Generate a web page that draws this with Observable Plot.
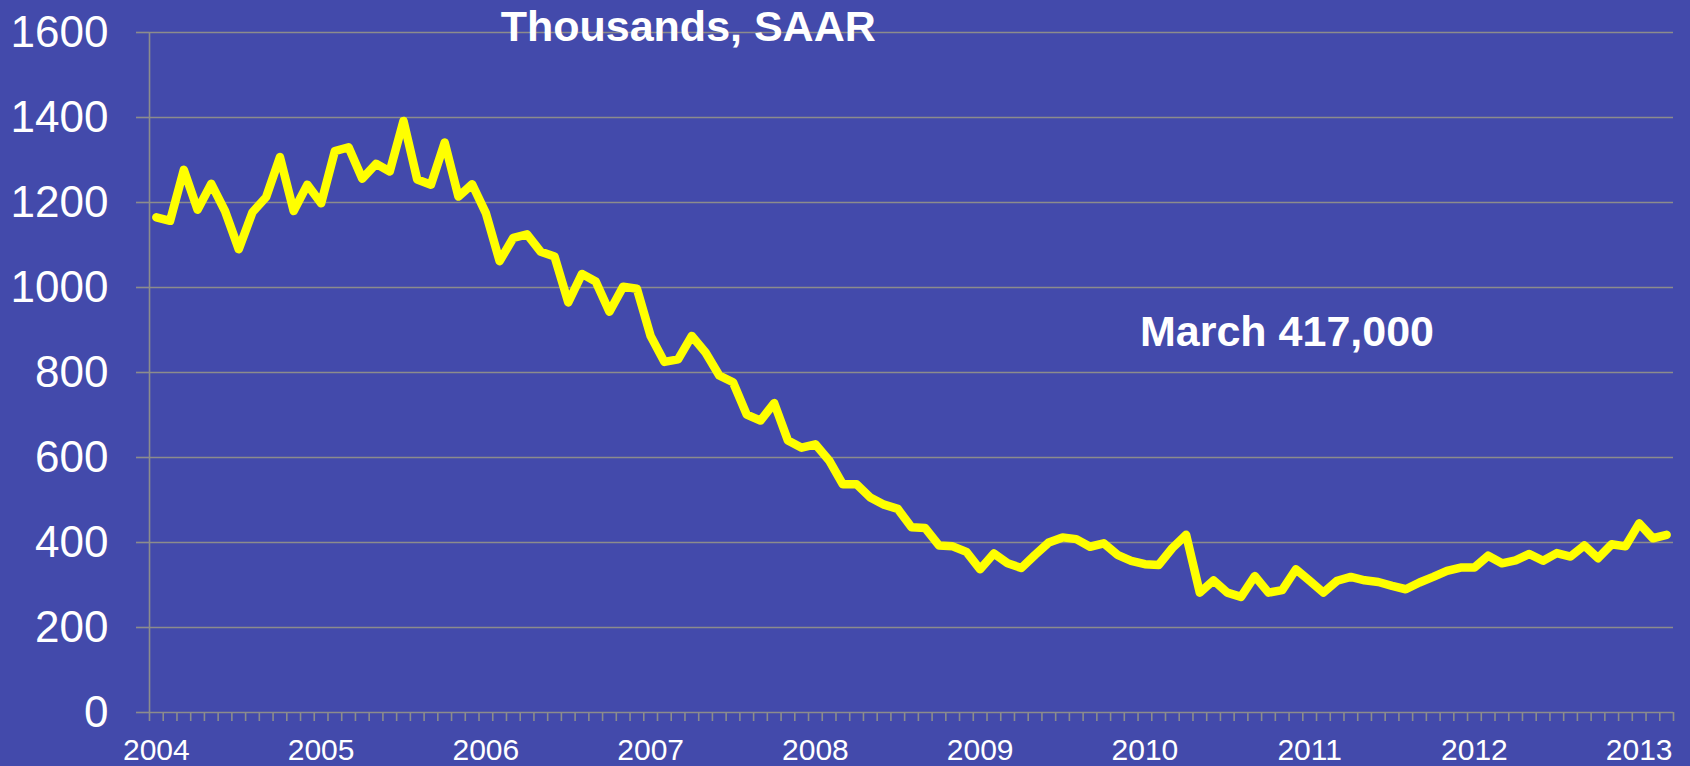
<!DOCTYPE html>
<html>
<head>
<meta charset="utf-8">
<script src="https://cdn.jsdelivr.net/npm/d3@7"></script>
<script src="https://cdn.jsdelivr.net/npm/@observablehq/plot@0.6"></script>
<style>
  html, body { margin: 0; padding: 0; background: #434AAB; overflow: hidden; }
  #chart { width: 1690px; height: 766px; }
</style>
</head>
<body>
<div id="chart"></div>
<script>
// ---- Data (thousands, SAAR) ----
const years = [2004, 2005, 2006, 2007, 2008, 2009, 2010, 2011, 2012, 2013];
const sales2004 = [1165, 1157, 1277, 1183, 1244, 1180, 1090, 1177, 1213, 1307, 1180, 1242];
const sales2005 = [1198, 1321, 1330, 1256, 1291, 1273, 1392, 1254, 1242, 1341, 1214, 1243];
const sales2006 = [1175, 1062, 1117, 1125, 1084, 1073, 965, 1032, 1014, 943, 1002, 997];
const sales2007 = [886, 825, 831, 886, 847, 793, 777, 701, 687, 728, 640, 623];
const sales2008 = [631, 593, 537, 537, 506, 489, 479, 436, 434, 393, 391, 378];
const sales2009 = [337, 374, 351, 340, 371, 400, 412, 408, 390, 398, 371, 357];
const sales2010 = [349, 347, 387, 418, 282, 311, 282, 272, 321, 282, 288, 337];
const sales2011 = [310, 282, 310, 319, 311, 307, 298, 290, 306, 319, 333, 341];
const sales2012 = [341, 369, 351, 358, 373, 357, 375, 367, 393, 363, 396, 391];
const sales2013 = [445, 410, 418];
const yTicks = [0, 200, 400, 600, 800, 1000, 1200, 1400, 1600];
const titleText = "Thousands, SAAR";
const noteText = "March 417,000";
const titleAnchor = {x: 2006.09, y: 1612};
const noteAnchor = {x: 2009.97, y: 895};

// ---- Build table ----
const salesByYear = [sales2004, sales2005, sales2006, sales2007, sales2008,
                     sales2009, sales2010, sales2011, sales2012, sales2013];
const data = salesByYear.flatMap((arr, k) => arr.map((v, m) => ({t: years[k] + m / 12, v})));
const nMonths = data.length;
const xMin = years[0] - 0.5 / 12;
const xMax = years[0] + (nMonths - 0.5) / 12;
const monthEdges = d3.range(0, nMonths + 1).map(k => years[0] + (k - 0.5) / 12);

const FONT = "'Liberation Sans', Arial, Helvetica, sans-serif";
const GRID = "#8C8C8C";

const chart = Plot.plot({
  width: 1690,
  height: 766,
  marginLeft: 149,
  marginRight: 17,
  marginTop: 32,
  marginBottom: 54,
  style: {background: "#434AAB", fontFamily: FONT, overflow: "visible"},
  x: {domain: [xMin, xMax]},
  y: {domain: [0, 1600]},
  marks: [
    Plot.gridY(yTicks, {stroke: GRID, strokeOpacity: 1, strokeWidth: 1.6}),
    Plot.ruleX([xMin], {y1: 0, y2: 1600, stroke: GRID, strokeWidth: 1.6}),
    Plot.axisY(yTicks, {
      tickSize: 13, tickPadding: 28, stroke: GRID, strokeWidth: 1.6,
      fill: "white", fontSize: 44, tickFormat: d => String(d), label: null
    }),
    // monthly tick marks below the x axis line (no labels)
    Plot.ruleX(monthEdges, {
      x: d => d, y1: 0, y2: 0, insetBottom: -9, stroke: GRID, strokeWidth: 1.6
    }),
    Plot.axisX(years, {
      tickSize: 0, tickPadding: 26, fill: "white", fontSize: 30,
      tickFormat: d => String(d), label: null
    }),
    Plot.line(data, {
      x: "t", y: "v", stroke: "#FFFF00", strokeWidth: 8.5,
      strokeLinejoin: "round", strokeLinecap: "round"
    }),
    Plot.text([titleText], {
      x: () => titleAnchor.x, y: () => titleAnchor.y, text: d => d,
      textAnchor: "start", fill: "white", fontSize: 43, fontWeight: "bold"
    }),
    Plot.text([noteText], {
      x: () => noteAnchor.x, y: () => noteAnchor.y, text: d => d,
      textAnchor: "start", fill: "white", fontSize: 43, fontWeight: "bold"
    })
  ]
});
document.getElementById("chart").appendChild(chart);
</script>
</body>
</html>
